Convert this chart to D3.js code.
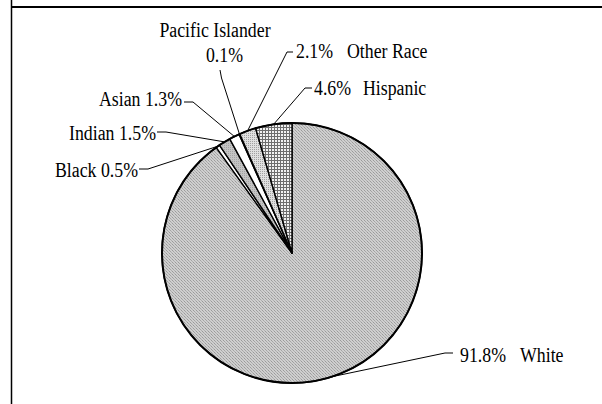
<!DOCTYPE html>
<html>
<head>
<meta charset="utf-8">
<script src="https://cdn.jsdelivr.net/npm/d3@7"></script>
<style>
  html, body { margin: 0; padding: 0; background: #fff; }
  svg { display: block; }
  text { font-family: "Liberation Serif", "Times New Roman", serif; font-size: 20px; fill: #000; }
</style>
</head>
<body>
<svg id="chart" width="602" height="404"></svg>
<script>
// Population share by race / ethnicity (percent), clockwise from 12 o'clock
const groups = ["White", "Black", "Indian", "Asian", "Pacific Islander", "Other Race", "Hispanic"];
const shares = [91.8, 0.5, 1.5, 1.3, 0.1, 2.1, 4.6];

const svg = d3.select("#chart");
const W = 602, H = 404;
const cx = 292, cy = 253, R = 130;
const squeeze = 0.89; // narrow serif face

// Fill patterns
const defs = svg.append("defs");
function pattern(id, size, bg, marks) {
  const p = defs.append("pattern").attr("id", id)
    .attr("patternUnits", "userSpaceOnUse").attr("width", size).attr("height", size);
  p.append("rect").attr("width", size).attr("height", size).attr("fill", bg);
  marks(p);
}
pattern("hatch", 3, "#cfcfcf", p => {
  p.append("rect").attr("x", 0).attr("y", 0).attr("width", 1).attr("height", 1).attr("fill", "#9a9a9a");
  p.append("rect").attr("x", 1).attr("y", 1).attr("width", 1).attr("height", 1).attr("fill", "#a4a4a4");
  p.append("rect").attr("x", 2).attr("y", 2).attr("width", 1).attr("height", 1).attr("fill", "#afafaf");
});
pattern("grid", 3, "#6e6e6e", p => {
  p.append("rect").attr("x", 1).attr("y", 1).attr("width", 2).attr("height", 2).attr("fill", "#f2f2f2");
});
pattern("dots", 2, "#e0e0e0", p => {
  p.append("rect").attr("x", 0).attr("y", 0).attr("width", 1).attr("height", 1).attr("fill", "#a0a0a0");
});
pattern("midgray", 2, "#c4c4c4", p => {
  p.append("rect").attr("x", 0).attr("y", 0).attr("width", 1).attr("height", 1).attr("fill", "#a4a4a4");
});

const fills = {
  "White": "url(#hatch)",
  "Black": "#ffffff",
  "Indian": "url(#midgray)",
  "Asian": "#ffffff",
  "Pacific Islander": "#ffffff",
  "Other Race": "url(#dots)",
  "Hispanic": "url(#grid)"
};

// Frame lines (left and top rules)
svg.append("line").attr("x1", 11.5).attr("x2", 11.5).attr("y1", 0).attr("y2", H)
  .attr("stroke", "#000").attr("stroke-width", 1.5);
svg.append("line").attr("x1", 11).attr("x2", W).attr("y1", 7).attr("y2", 7)
  .attr("stroke", "#000").attr("stroke-width", 2.2);

const data = groups.map((g, i) => ({ group: g, value: shares[i] }));
const pie = d3.pie().sort(null).value(d => d.value).startAngle(0).endAngle(2 * Math.PI);
const arcs = pie(data);
const arc = d3.arc().innerRadius(0).outerRadius(R);

const g = svg.append("g").attr("transform", `translate(${cx},${cy})`);
g.selectAll("path.slice").data(arcs).join("path")
  .attr("class", "slice")
  .attr("d", arc)
  .attr("fill", d => fills[d.data.group])
  .attr("stroke", "#000")
  .attr("stroke-width", 1.4)
  .attr("stroke-linejoin", "round");
g.append("circle").attr("r", R).attr("fill", "none").attr("stroke", "#000").attr("stroke-width", 2);

// Point on the rim at the middle of a slice
function rimPoint(a) {
  const m = (a.startAngle + a.endAngle) / 2;
  return [cx + R * Math.sin(m), cy - R * Math.cos(m)];
}

const pct = v => d3.format(".1f")(v) + "%";

// Label placement: leader elbow points and text anchors for each group
const labelLayout = {
  "White":            { lead: [[453, 353], [445, 353]], texts: [["value", 460, 362, "start"], ["name", 520, 362, "start"]] },
  "Hispanic":         { lead: [[312, 88], [305, 88]],   texts: [["value", 314, 95, "start"], ["name", 363, 95, "start"]] },
  "Other Race":       { lead: [[293, 52], [287, 52]],   texts: [["value", 296, 58, "start"], ["name", 347, 58, "start"]] },
  "Pacific Islander": { lead: [[220, 70], [221.5, 78]], texts: [["name", 215, 37, "middle"], ["value", 224.5, 62, "middle"]] },
  "Asian":            { lead: [[184, 102], [193, 102]], texts: [["both", 182, 106, "end"]] },
  "Indian":           { lead: [[157, 132], [166, 132]], texts: [["both", 156, 140, "end"]] },
  "Black":            { lead: [[139, 169], [148, 169]], texts: [["both", 138, 177, "end"]] }
};

const line = d3.line();
arcs.forEach(a => {
  const lay = labelLayout[a.data.group];
  const pts = lay.lead.concat([rimPoint(a)]);
  svg.append("path").attr("d", line(pts)).attr("fill", "none")
    .attr("stroke", "#000").attr("stroke-width", 1);
  lay.texts.forEach(([kind, x, y, anchor]) => {
    const s = kind === "value" ? pct(a.data.value)
            : kind === "name" ? a.data.group
            : a.data.group + " " + pct(a.data.value);
    svg.append("text")
      .attr("transform", `translate(${x},${y}) scale(${squeeze},1)`)
      .attr("text-anchor", anchor).text(s);
  });
});
</script>
</body>
</html>
